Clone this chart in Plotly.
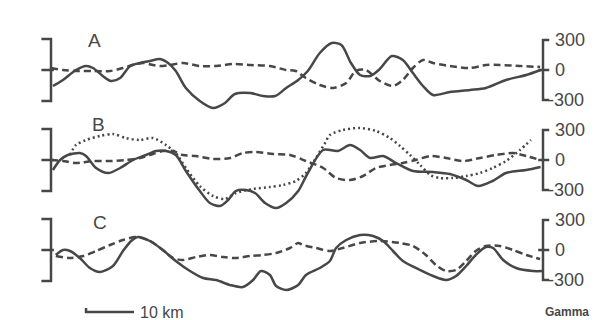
import plotly.graph_objects as go

# ---- data: distance along profile (km) and magnetic anomaly (gamma) ----
a_solid_km = [0.4, 2.5, 5.2, 7.3, 8.75, 10.8, 12.5, 14.4, 16.5, 18.5, 20.6, 22.7, 24.4, 26, 28.1, 31,
              33.75, 36.25, 38.3, 41.5, 44.2, 46.7, 49, 51.5, 53.5, 56, 58.5, 60.5, 62.5, 64.4, 66.5,
              68.5, 71, 73.3, 75.4, 77.5, 79.6, 83.1, 87.3, 90.6, 94.8, 99, 102]
a_solid_g = [-160, -100, 0, 40, 20, -60, -110, -80, 40, 70, 90, 110, 70, -10, -180, -310,
             -380, -330, -240, -230, -260, -260, -180, -100, -10, 170, 270, 250, 70, -50, -60,
             10, 140, 100, -30, -160, -250, -220, -200, -180, -100, -50, 0]

a_dash_km = [0, 2.5, 5.2, 8.75, 12.3, 15, 17, 19.2, 21.25, 22.7, 24.8, 27.5, 31, 34.4, 37.9, 41.5,
             45.6, 49, 51, 53.1, 56, 58.75, 61.5, 63.5, 65.6, 68.5, 71.25, 73.3, 75.4, 77.5, 79.6,
             83.1, 87.3, 90.6, 93.5, 97.7, 101.9]
a_dash_g = [20, 0, -10, -10, -10, 20, 50, 70, 50, 40, 50, 70, 40, 40, 60, 50,
            40, 0, -10, -80, -150, -180, -130, -10, 0, -110, -160, -100, 20, 100, 70,
            40, 20, 50, 50, 40, 30]

b_solid_km = [0.4, 1.9, 3.5, 6, 7.3, 9.4, 11.9, 14.4, 17.1, 19.8, 21.9, 24, 26, 28.1, 31, 33.1,
              35.2, 36.9, 38.5, 40.6, 42.5, 44.6, 46.9, 49, 51.5, 53.5, 56.7, 59.8, 62.3, 64.4,
              66.5, 69.2, 71.9, 75.4, 79.6, 83.1, 86.5, 89, 92, 94.8, 99, 102]
b_solid_g = [-100, 0, 50, 70, 40, -80, -130, -80, 0, 50, 90, 90, 50, -110, -310, -430,
             -460, -400, -310, -300, -330, -430, -480, -430, -310, -130, 100, 90, 150, 100,
             20, 40, -30, -110, -120, -140, -200, -260, -210, -130, -100, -70]

b_dash_km = [0, 2.5, 5.2, 8.75, 12.3, 15.6, 18.5, 21.25, 23.3, 25.4, 27.5, 30.2, 33.75, 37.3, 40,
             42.7, 46.25, 49.8, 53.1, 56.7, 59.4, 62.3, 65, 67.7, 70.6, 73.3, 76, 79, 82.3, 85.8,
             89.4, 92.7, 96.25, 99, 101.9]
b_dash_g = [0, -10, -30, -10, -10, 0, 20, 60, 90, 90, 50, 40, 10, 20, 70,
            80, 60, 50, -10, -80, -180, -200, -160, -80, -50, -30, 0, 40, 20, -10,
            20, 50, 70, 40, 0]

b_dot_km = [3.96, 5.2, 7.3, 10.2, 12.9, 15.6, 18.5, 21.25, 23.96, 26, 28.1, 31, 33.75, 36.25,
            38.5, 42.1, 45.6, 48.3, 51, 53.1, 55.2, 57.1, 58.1, 60.8, 64.4, 67.7, 70.6, 72.7,
            74.8, 76.9, 79, 81, 83.75, 86.5, 89.4, 92, 94.8, 97.7, 100]
b_dot_g = [50, 150, 200, 240, 260, 220, 200, 220, 150, 70, -80, -260, -360, -390,
           -330, -290, -270, -250, -210, -130, 20, 170, 250, 300, 320, 290, 220, 140,
           50, -50, -150, -180, -180, -160, -130, -80, -10, 100, 200]

c_solid_km = [1.0, 2.5, 3.96, 6, 8.1, 10.2, 12.9, 15, 16.7, 18.1, 20.6, 23.3, 26, 28.96, 31.7,
              34.4, 37.3, 40, 42.1, 43.75, 45.6, 46.9, 49, 51.5, 53.1, 56, 58.1, 59.4, 61.5,
              64.4, 67.1, 69.2, 71.25, 73.3, 76.9, 79.6, 82.3, 84.4, 86.5, 88.5, 90.6, 92.1,
              94.2, 96.9, 100.4, 102.5]
c_solid_g = [-50, 0, -10, -80, -180, -220, -160, -10, 90, 130, 90, 0, -110, -210, -280,
             -300, -350, -370, -300, -210, -250, -360, -400, -350, -250, -180, -110, 20, 100,
             150, 140, 90, -10, -110, -200, -260, -300, -260, -160, -50, 30, 20,
             -100, -180, -210, -210]

c_dash_km = [1.0, 3.96, 6.7, 9.4, 12.3, 15, 17.7, 20.6, 23.3, 25.4, 27.5, 30.2, 33.1, 35.8, 38.5,
             41.5, 44.2, 46.9, 49.8, 51.5, 52.5, 55.2, 58.1, 60.8, 64.4, 68.5, 72.7, 75.4, 78.1,
             80.2, 82.3, 84.4, 86.5, 88.5, 90.6, 93.5, 96.25, 99, 101.9]
c_dash_g = [-60, -80, -60, -10, 50, 100, 130, 90, 0, -80, -100, -70, -50, -70, -80,
            -60, -50, -30, 20, 70, 50, 20, -10, 20, 70, 90, 70, 40, -50,
            -150, -210, -200, -110, -10, 40, 40, 0, -50, -90]

panel_labels = ["A", "B", "C"]
tick_vals = [300, 0, -300]
tick_text = ["300", "0", "-300"]
scale_km = 10
scale_label = "10 km"
unit_label = "Gamma"

# ---- styling ----
INK = "#474747"
W, H = 605, 320
FONT = "Liberation Sans, Arial, sans-serif"

fig = go.Figure()

def add_line(x, y, yaxis, dash):
    fig.add_trace(go.Scatter(x=x, y=y, yaxis=yaxis, mode="lines",
                             line=dict(color=INK, width=2.5, dash=dash, shape="spline", smoothing=0.8),
                             hoverinfo="skip", showlegend=False))

add_line(a_solid_km, a_solid_g, "y", "solid")
add_line(a_dash_km, a_dash_g, "y", "7px,4px")
add_line(b_solid_km, b_solid_g, "y2", "solid")
add_line(b_dash_km, b_dash_g, "y2", "7px,4px")
add_line(b_dot_km, b_dot_g, "y2", "2px,3px")
add_line(c_solid_km, c_solid_g, "y3", "solid")
add_line(c_dash_km, c_dash_g, "y3", "7px,4px")

shapes = []
annotations = []
yrefs = ["y", "y2", "y3"]
label_pos = [(87, 300), (90, 360), (92, 280)]
for i, yr in enumerate(yrefs):
    # left bracket
    shapes.append(dict(type="path", xref="x", yref=yr,
                       path="M -2,310 L 0,310 L 0,-310 L -2,-310",
                       line=dict(color=INK, width=2.5)))
    shapes.append(dict(type="line", xref="x", yref=yr, x0=-2, x1=0.6, y0=0, y1=0,
                       line=dict(color=INK, width=2.5)))
    # right bracket
    shapes.append(dict(type="path", xref="x", yref=yr,
                       path="M 103.8,300 L 102.5,300 L 102.5,-300 L 103.8,-300",
                       line=dict(color=INK, width=2.5)))
    shapes.append(dict(type="line", xref="x", yref=yr, x0=101.5, x1=103.8, y0=0, y1=0,
                       line=dict(color=INK, width=2.5)))
    for v, t in zip(tick_vals, tick_text):
        annotations.append(dict(x=(545 if v >= 0 else 538) / W, xref="paper", y=v, yref=yr,
                                text=t, showarrow=False, xanchor="left", yanchor="middle",
                                font=dict(family=FONT, size=18, color=INK)))
    lx, ly = label_pos[i]
    annotations.append(dict(x=lx / W, xref="paper", y=ly, yref=yr, text=panel_labels[i],
                            showarrow=False, xanchor="center", yanchor="middle",
                            font=dict(family=FONT, size=19, color=INK)))

# scale bar
x0_bar = 7.3
bar_y = 1 - 304 / H
shapes.append(dict(type="path", xref="x", yref="paper",
                   path=f"M {x0_bar},{bar_y + 4 / H} L {x0_bar},{bar_y} L {x0_bar + scale_km},{bar_y}",
                   line=dict(color=INK, width=2.5)))
annotations.append(dict(x=130 / W, xref="paper", y=bar_y, yref="paper", text=scale_label,
                        showarrow=False, xanchor="left", yanchor="middle",
                        font=dict(family=FONT, size=16, color=INK)))
annotations.append(dict(x=559 / W, xref="paper", y=bar_y, yref="paper", text=f"<b>{unit_label}</b>",
                        showarrow=False, xanchor="center", yanchor="middle",
                        font=dict(family=FONT, size=12, color=INK)))

px_per_km = 4.8
x_origin_px = 43
gamma_per_px = 10
zeros_px = [62, 152, 242]

def yrange(z):
    return [(z - H) * gamma_per_px, z * gamma_per_px]

hidden = dict(visible=False, showgrid=False, zeroline=False, fixedrange=True)
fig.update_layout(
    width=W, height=H, margin=dict(l=0, r=0, t=0, b=0),
    paper_bgcolor="white", plot_bgcolor="white",
    xaxis=dict(range=[-x_origin_px / px_per_km, (W - x_origin_px) / px_per_km], **hidden),
    yaxis=dict(range=yrange(zeros_px[0]), domain=[0, 1], **hidden),
    yaxis2=dict(range=yrange(zeros_px[1]), overlaying="y", **hidden),
    yaxis3=dict(range=yrange(zeros_px[2]), overlaying="y", **hidden),
    shapes=shapes, annotations=annotations, showlegend=False,
)

fig.write_html("out.html")
